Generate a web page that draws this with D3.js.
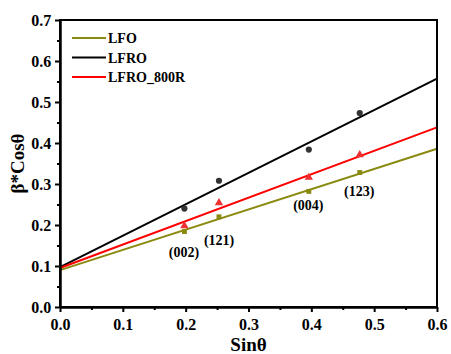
<!DOCTYPE html>
<html>
<head>
<meta charset="utf-8">
<script src="https://cdn.jsdelivr.net/npm/d3@7"></script>
<style>
  html, body { margin: 0; padding: 0; background: #fff; }
  svg { display: block; }
</style>
</head>
<body>
<svg id="chart" width="451" height="354"></svg>
<script>
// Williamson–Hall data: sinθ vs β·cosθ for the four reflections
const sinTheta = [0.198, 0.253, 0.396, 0.477];
const reflections = ["(002)", "(121)", "(004)", "(123)"];
const seriesNames = ["LFO", "LFRO", "LFRO_800R"];
const lfoValues = [0.184, 0.220, 0.282, 0.328];
const lfroValues = [0.240, 0.308, 0.384, 0.473];
const lfro800Values = [0.198, 0.254, 0.316, 0.371];
// linear fit lines: intercept and slope
const fitIntercepts = [0.090, 0.097, 0.095];
const fitSlopes = [0.493, 0.767, 0.572];
const xTicks = [0.0, 0.1, 0.2, 0.3, 0.4, 0.5, 0.6];
const yTicks = [0.0, 0.1, 0.2, 0.3, 0.4, 0.5, 0.6, 0.7];

const FONT = "'Liberation Serif', 'Times New Roman', 'DejaVu Serif', serif";
const colors = ["#8a8a10", "#000000", "#ff0000"];
const markerFill = ["#8a8a10", "#333333", "#ee3030"];
const values = [lfoValues, lfroValues, lfro800Values];

const svg = d3.select("#chart");
const margin = { left: 60, right: 14, top: 20, bottom: 47 };
const W = 451, H = 354;
const x = d3.scaleLinear().domain([0, 0.6]).range([margin.left, W - margin.right]);
const y = d3.scaleLinear().domain([0, 0.7]).range([H - margin.bottom, margin.top]);

function serif(sel, size) {
  return sel.style("font-family", FONT).style("font-weight", "bold").style("font-size", size + "px");
}

// fit lines
const lineGen = d3.line().x(d => x(d[0])).y(d => y(d[1]));
seriesNames.forEach((name, i) => {
  const pts = [0, 0.6].map(v => [v, fitIntercepts[i] + fitSlopes[i] * v]);
  svg.append("path")
    .attr("d", lineGen(pts))
    .attr("fill", "none")
    .attr("stroke", colors[i])
    .attr("stroke-width", 2);
});

// markers
const sqr = d3.symbol().type(d3.symbolSquare).size(24);
const tri = d3.symbol().type(d3.symbolTriangle).size(30);
const circ = d3.symbol().type(d3.symbolCircle).size(30);
const shapes = [sqr, circ, tri];
seriesNames.forEach((name, i) => {
  svg.append("g").selectAll("path")
    .data(sinTheta.map((s, j) => [s, values[i][j]]))
    .join("path")
    .attr("d", shapes[i]())
    .attr("transform", d => `translate(${x(d[0])},${y(d[1])})`)
    .attr("fill", markerFill[i]);
});

// reflection labels
const labelPos = [[0.198, 0.123], [0.254, 0.151], [0.396, 0.236], [0.477, 0.270]];
svg.append("g").selectAll("text")
  .data(reflections)
  .join("text")
  .attr("x", (d, i) => x(labelPos[i][0]) - 0.5)
  .attr("y", (d, i) => y(labelPos[i][1]))
  .attr("text-anchor", "middle")
  .call(serif, 14)
  .text(d => d);

// axes
const xAxis = d3.axisBottom(x).tickValues(xTicks).tickFormat(d3.format(".1f")).tickSize(5).tickSizeOuter(0);
const yAxis = d3.axisLeft(y).tickValues(yTicks).tickFormat(d3.format(".1f")).tickSize(5).tickSizeOuter(0);
const xMinor = d3.axisBottom(x).tickValues(d3.range(0.05, 0.6, 0.1)).tickFormat("").tickSize(3).tickSizeOuter(0);
const yMinor = d3.axisLeft(y).tickValues(d3.range(0.05, 0.7, 0.1)).tickFormat("").tickSize(3).tickSizeOuter(0);

function styleAxis(g) {
  g.selectAll(".domain").attr("stroke", "#000").attr("stroke-width", 2);
  g.selectAll(".tick line").attr("stroke", "#000").attr("stroke-width", 2);
  g.selectAll(".tick text").attr("fill", "#000").call(serif, 16);
}
svg.append("g").attr("transform", `translate(0,${H - margin.bottom})`).call(xMinor).call(styleAxis);
svg.append("g").attr("transform", `translate(${margin.left},0)`).call(yMinor).call(styleAxis);
svg.append("g").attr("transform", `translate(0,${H - margin.bottom})`).call(xAxis).call(styleAxis)
  .selectAll(".tick text").attr("dy", "0.95em");
svg.append("g").attr("transform", `translate(${margin.left},0)`).call(yAxis).call(styleAxis)
  .selectAll(".tick text").attr("dx", "-0.05em");

// frame
svg.append("rect")
  .attr("x", margin.left).attr("y", margin.top)
  .attr("width", W - margin.left - margin.right)
  .attr("height", H - margin.top - margin.bottom)
  .attr("fill", "none").attr("stroke", "#000").attr("stroke-width", 2);

// axis titles
svg.append("text")
  .attr("x", x(0.3)).attr("y", 351)
  .attr("text-anchor", "middle")
  .call(serif, 19)
  .text("Sinθ");
svg.append("text")
  .attr("transform", `translate(24,${y(0.35)}) rotate(-90)`)
  .attr("text-anchor", "middle")
  .call(serif, 19)
  .text("β*Cosθ");

// legend
const legend = svg.append("g");
seriesNames.forEach((name, i) => {
  const ly = 38 + i * 19.5;
  legend.append("line")
    .attr("x1", 72).attr("x2", 106).attr("y1", ly).attr("y2", ly)
    .attr("stroke", colors[i]).attr("stroke-width", 2);
  legend.append("text")
    .attr("x", 108).attr("y", ly + 5)
    .call(serif, 14)
    .text(name);
});
</script>
</body>
</html>
